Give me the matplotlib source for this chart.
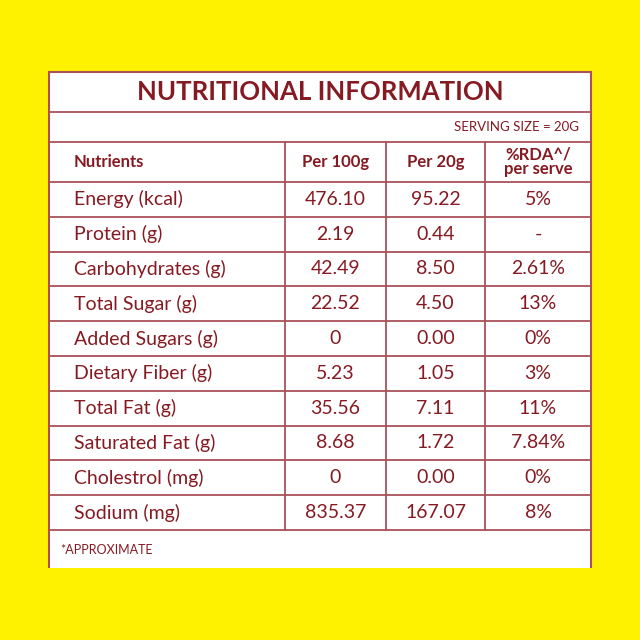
import matplotlib.pyplot as plt
from matplotlib.patches import Rectangle

nutrients = ["Energy (kcal)", "Protein (g)", "Carbohydrates (g)", "Total Sugar (g)",
             "Added Sugars (g)", "Dietary Fiber (g)", "Total Fat (g)",
             "Saturated Fat (g)", "Cholestrol (mg)", "Sodium (mg)"]
per_100g = ["476.10", "2.19", "42.49", "22.52", "0", "5.23", "35.56", "8.68", "0", "835.37"]
per_20g = ["95.22", "0.44", "8.50", "4.50", "0.00", "1.05", "7.11", "1.72", "0.00", "167.07"]
rda = ["5%", "-", "2.61%", "13%", "0%", "3%", "11%", "7.84%", "0%", "8%"]
headers = ["Nutrients", "Per 100g", "Per 20g", "%RDA^/\nper serve"]

TEXT = "#861a22"
LINE = "#a9505a"
YELLOW = "#fff200"
FONT = "Lato"

fig = plt.figure(figsize=(6.4, 6.4), dpi=100)
fig.patch.set_facecolor(YELLOW)
ax = fig.add_axes([0, 0, 1, 1])
ax.set_xlim(0, 640)
ax.set_ylim(640, 0)
ax.axis("off")

left, right, top, bottom = 49, 591, 72, 568
cols = [left, 285, 386, 485, right]
title_bottom, serving_bottom, header_bottom = 112, 142, 182
row_h = 34.8
table_bottom = header_bottom + row_h * len(nutrients)

ax.add_patch(Rectangle((left, top), right - left, bottom - top + 10,
                       facecolor="white", edgecolor=LINE, lw=1.5))
for y in [title_bottom, serving_bottom, header_bottom, table_bottom]:
    ax.plot([left, right], [y, y], color=LINE, lw=1.3)
for i in range(1, len(nutrients)):
    y = header_bottom + row_h * i
    ax.plot([left, right], [y, y], color=LINE, lw=1.3)
for x in cols[1:-1]:
    ax.plot([x, x], [serving_bottom, table_bottom], color=LINE, lw=1.3)
# yellow band hides the bottom of the footnote box
ax.add_patch(Rectangle((0, bottom), 640, 640 - bottom, facecolor=YELLOW, edgecolor="none", zorder=5))

ax.text(320, 92, "NUTRITIONAL INFORMATION", ha="center", va="center",
        color=TEXT, fontsize=18.5, fontweight="bold", family=FONT)
ax.text(579, 127, "SERVING SIZE = 20G", ha="right", va="center",
        color=TEXT, fontsize=9.5, family=FONT)

hy = (serving_bottom + header_bottom) / 2
ax.text(74, hy, headers[0], ha="left", va="center", color=TEXT,
        fontsize=12, fontweight="bold", family=FONT)
for j in range(1, 4):
    cx = (cols[j] + cols[j + 1]) / 2
    ax.text(cx, hy, headers[j], ha="center", va="center", color=TEXT,
            fontsize=12, fontweight="bold", family=FONT, linespacing=0.85)

for i, name in enumerate(nutrients):
    cy = header_bottom + row_h * (i + 0.5)
    ax.text(74, cy, name, ha="left", va="center", color=TEXT, fontsize=14, family=FONT)
    for j, vals in enumerate([per_100g, per_20g, rda], start=1):
        cx = (cols[j] + cols[j + 1]) / 2
        ax.text(cx, cy, vals[i], ha="center", va="center", color=TEXT,
                fontsize=14, family=FONT)

ax.text(60, 550, "*APPROXIMATE", ha="left", va="center", color=TEXT, fontsize=9, family=FONT)

fig.savefig("out.png", dpi=100, facecolor=YELLOW)
